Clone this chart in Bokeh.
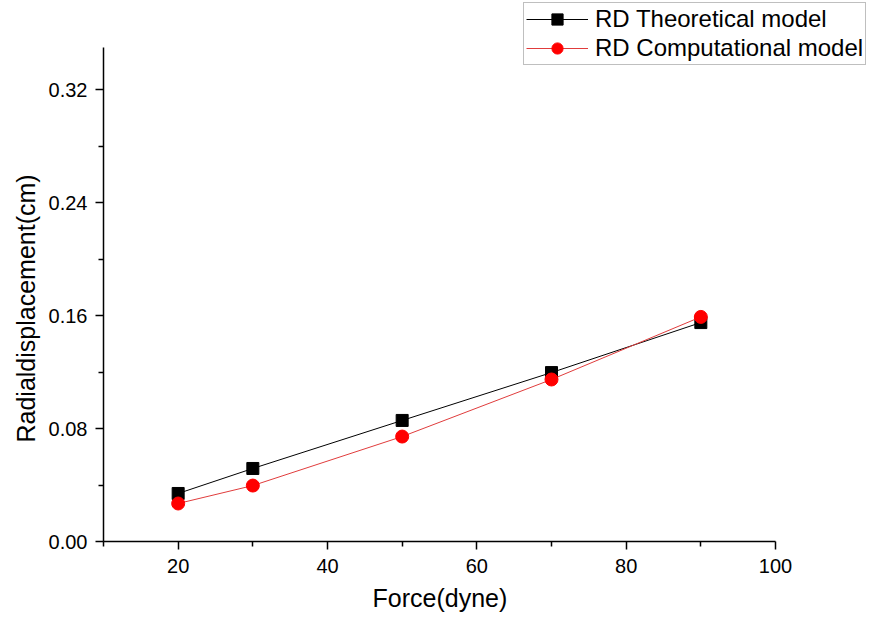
from bokeh.plotting import figure
from bokeh.models import FixedTicker, PrintfTickFormatter, Legend, LegendItem, Range1d, ColumnDataSource, Title
from bokeh.embed import file_html
from bokeh.resources import INLINE

force = [20, 30, 50, 70, 90]
rd_theoretical = [0.034, 0.0517, 0.0857, 0.1196, 0.155]
rd_computational = [0.0269, 0.0396, 0.0743, 0.1147, 0.159]
x_ticks = [20, 40, 60, 80, 100]
x_minor = [10, 30, 50, 70, 90]
y_ticks = [0.0, 0.08, 0.16, 0.24, 0.32]
y_minor = [0.04, 0.12, 0.20, 0.28]
x_label = "Force(dyne)"
y_label = "Radialdisplacement(cm)"

FONT = "Liberation Sans"

# frame: left 103, right 872, top 0, bottom 541  (axes drawn only over 10..100, 0..0.35)
p = figure(width=872, height=621, output_backend="svg", toolbar_location=None,
           x_range=Range1d(10, 10 + 769 / 7.4667), y_range=Range1d(0, 541 / 1412.5),
           min_border_left=103, min_border_right=0, min_border_top=0, min_border_bottom=80)
p.outline_line_color = None
p.xgrid.grid_line_color = None
p.ygrid.grid_line_color = None

src = ColumnDataSource(dict(x=force, t=rd_theoretical, c=rd_computational))
lt = p.line("x", "t", source=src, line_color="black", line_width=1)
st = p.scatter("x", "t", source=src, marker="square", size=12, fill_color="black", line_color="black")
lc = p.line("x", "c", source=src, line_color="#e03c3c", line_width=1)
sc = p.scatter("x", "c", source=src, marker="circle", size=13, fill_color="#ff0000", line_color="#ff0000")

for ax in (p.xaxis[0], p.yaxis[0]):
    ax.axis_line_width = 1.5
    ax.major_tick_line_width = 1.5
    ax.minor_tick_line_width = 1.5
    ax.major_tick_out = 8
    ax.major_tick_in = 0
    ax.minor_tick_out = 5
    ax.minor_tick_in = 0
    ax.major_label_text_font = FONT
    ax.major_label_text_font_size = "20px"
    ax.major_label_text_color = "black"

p.xaxis[0].bounds = (10, 100)
p.yaxis[0].bounds = (0, 0.35)
p.xaxis[0].ticker = FixedTicker(ticks=x_ticks, minor_ticks=x_minor)
p.yaxis[0].ticker = FixedTicker(ticks=y_ticks, minor_ticks=y_minor)
p.yaxis[0].formatter = PrintfTickFormatter(format="%.2f")
p.xaxis[0].major_label_standoff = 9
p.yaxis[0].major_label_standoff = 8

# axis titles, placed over the drawn axis extent rather than the whole frame
xt = Title(text=x_label, align="left", offset=269, text_font=FONT, text_font_size="25px",
           text_font_style="normal", text_color="black", standoff=12)
p.add_layout(xt, "below")
yt = Title(text=y_label, align="left", offset=99, text_font=FONT, text_font_size="25px",
           text_font_style="normal", text_color="black", standoff=11)
p.add_layout(yt, "left")

legend = Legend(items=[LegendItem(label="RD Theoretical model", renderers=[lt, st]),
                       LegendItem(label="RD Computational model", renderers=[lc, sc])],
                location=(420, 476), orientation="vertical")
legend.label_text_font = FONT
legend.label_text_font_size = "24px"
legend.label_text_color = "black"
legend.border_line_color = "#808080"
legend.border_line_width = 1
legend.padding = 2
legend.spacing = 1
legend.margin = 0
legend.glyph_width = 62
legend.glyph_height = 28
legend.label_height = 28
legend.label_standoff = 7
legend.background_fill_alpha = 1
p.add_layout(legend, "center")

open("out.html", "w").write(file_html(p, INLINE))
